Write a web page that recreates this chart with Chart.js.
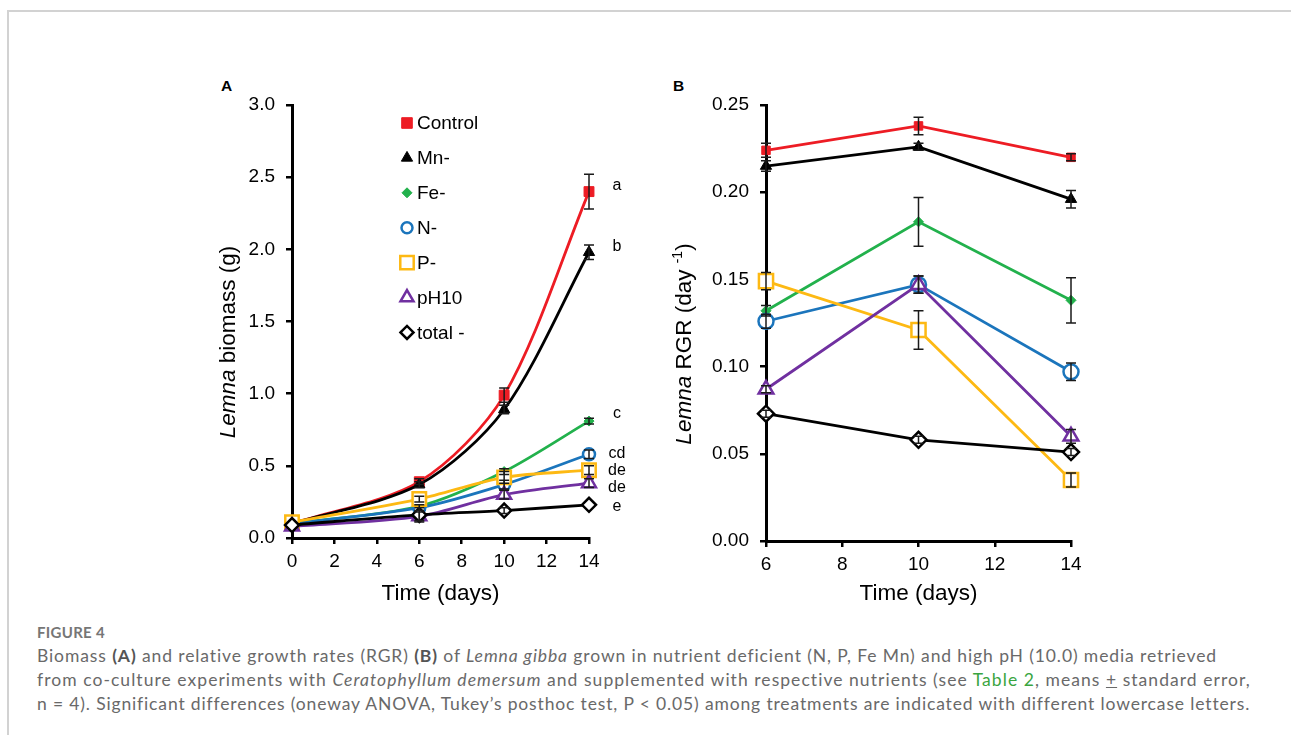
<!DOCTYPE html>
<html>
<head>
<meta charset="utf-8">
<script src="https://cdn.jsdelivr.net/npm/chart.js@4.4.1/dist/chart.umd.min.js"></script>
<style>
  body { margin: 0; background: #fff; width: 1291px; height: 735px; overflow: hidden; position: relative; font-family: "Liberation Sans", Arial, sans-serif; }
  #frame { position: absolute; left: 7px; top: 10px; width: 1400px; height: 800px; border-left: 2px solid #d2d2d2; border-top: 2px solid #d2d2d2; }
  .panel { position: absolute; font-weight: bold; font-size: 15.5px; color: #000; }
  canvas { position: absolute; }
  #caption { position: absolute; left: 37px; top: 623px; color: #696969; font-family: Lato, "Noto Sans", sans-serif; white-space: nowrap; }
  #caption .figno { font-size: 15px; font-weight: bold; color: #767676; letter-spacing: 0.3px; height: 21px; }
  #caption .line { font-size: 17.5px; line-height: 24px; display: inline-block; }
  #caption b { color: #555; }
  #caption .link { color: #3aa53f; }
</style>
</head>
<body>
<div id="frame"></div>
<div class="panel" style="left:221px; top:77px;">A</div>
<div class="panel" style="left:673px; top:77px;">B</div>
<canvas id="chartA" width="450" height="560" style="left:200px; top:60px;"></canvas>
<canvas id="chartB" width="450" height="560" style="left:655px; top:60px;"></canvas>
<div id="caption">
  <div class="figno">FIGURE 4</div>
  <div class="line" data-w="1180">Biomass <b>(A)</b> and relative growth rates (RGR) <b>(B)</b> of <i>Lemna gibba</i> grown in nutrient deficient (N, P, Fe Mn) and high pH (10.0) media retrieved</div><br>
  <div class="line" data-w="1214">from co-culture experiments with <i>Ceratophyllum demersum</i> and supplemented with respective nutrients (see <span class="link">Table 2</span>, means <u>+</u> standard error,</div><br>
  <div class="line" data-w="1211">n = 4). Significant differences (oneway ANOVA, Tukey’s posthoc test, P &lt; 0.05) among treatments are indicated with different lowercase letters.</div>
</div>
<script>
// ---- data ----
const seriesNames = ['Control', 'Mn-', 'Fe-', 'N-', 'P-', 'pH10', 'total -'];

// A: biomass (g) at days 0, 6, 10, 14
const daysA = [0, 6, 10, 14];
const bioControl = [0.10, 0.39, 0.99, 2.40];
const bioMn      = [0.10, 0.37, 0.89, 1.98];
const bioFe      = [0.10, 0.22, 0.46, 0.81];
const bioN       = [0.10, 0.21, 0.37, 0.58];
const bioP       = [0.11, 0.27, 0.42, 0.47];
const bioPH      = [0.08, 0.15, 0.30, 0.38];
const bioTotal   = [0.09, 0.16, 0.19, 0.23];
const bioControlErr = [0.01, 0.02, 0.05, 0.12];
const bioMnErr      = [0.01, 0.02, 0.03, 0.05];
const bioFeErr      = [0.01, 0.01, 0.02, 0.02];
const bioNErr       = [0.01, 0.02, 0.03, 0.03];
const bioPErr       = [0.01, 0.02, 0.04, 0.03];
const bioPHErr      = [0.01, 0.03, 0.03, 0.03];
const bioTotalErr   = [0.01, 0.05, 0.02, 0.01];

// letters next to day 14
const lettersA = ['a', 'b', 'c', 'cd', 'de', 'de', 'e'];
const lettersY = [2.44, 2.02, 0.866, 0.585, 0.47, 0.35, 0.22];

// B: RGR (day-1) at days 6, 10, 14
const daysB = [6, 10, 14];
const rgrControl = [0.224, 0.238, 0.220];
const rgrMn      = [0.215, 0.226, 0.196];
const rgrFe      = [0.132, 0.183, 0.138];
const rgrN       = [0.126, 0.147, 0.097];
const rgrP       = [0.149, 0.121, 0.035];
const rgrPH      = [0.087, 0.147, 0.060];
const rgrTotal   = [0.073, 0.058, 0.051];
const rgrControlErr = [0.004, 0.005, 0.002];
const rgrMnErr      = [0.003, 0.002, 0.005];
const rgrFeErr      = [0.003, 0.014, 0.013];
const rgrNErr       = [0.004, 0.005, 0.005];
const rgrPErr       = [0.005, 0.011, 0.004];
const rgrPHErr      = [0.002, 0.005, 0.004];
const rgrTotalErr   = [0.002, 0.002, 0.002];

// ---- styles ----
const colors = ['#ED1C24', '#000000', '#22B14C', '#1B75BC', '#FDB913', '#7030A0', '#000000'];
const styles = ['rect', 'triangle', 'rectRot', 'circle', 'rect', 'triangle', 'rectRot'];
const filled = [true, true, true, false, false, false, false];
const radiiA = [7, 6.5, 5, 6, 9.5, 8, 7];
const radiiB = [6, 6.5, 5, 7.5, 10, 8.5, 8];
const radiiLegend = [7.5, 6.5, 5, 5.5, 9.5, 7.5, 6.5];
const FONT = '"Liberation Sans", Arial, sans-serif';

// caption: spread each line to the reference width
document.querySelectorAll('#caption .line').forEach(el => {
  const target = Number(el.dataset.w);
  const n = el.textContent.length;
  el.style.letterSpacing = ((target - el.getBoundingClientRect().width) / n) + 'px';
});

function makeDatasets(days, values, errs, radii, smooth) {
  return values.map((vals, i) => ({
    label: seriesNames[i],
    data: days.map((d, j) => ({ x: d, y: vals[j] })),
    err: errs[i],
    order: values.length - i, // later series on top, like the original
    borderColor: colors[i],
    backgroundColor: colors[i],
    pointStyle: styles[i],
    pointRadius: radii[i],
    pointBorderColor: colors[i],
    pointBackgroundColor: filled[i] ? colors[i] : '#ffffff',
    pointBorderWidth: filled[i] ? 1 : 2.5,
    borderWidth: 2.8,
    tension: smooth ? 0.3 : 0,
    clip: false,
  }));
}

// error bars from dataset.err
const errorBars = {
  id: 'errorBars',
  afterDatasetsDraw(chart) {
    const { ctx, scales: { x, y } } = chart;
    ctx.save();
    ctx.strokeStyle = '#1a1a1a';
    ctx.lineWidth = 1.5;
    chart.data.datasets.forEach(ds => {
      ds.data.forEach((p, j) => {
        const e = ds.err[j];
        const px = x.getPixelForValue(p.x);
        const y1 = y.getPixelForValue(p.y + e), y2 = y.getPixelForValue(p.y - e);
        if (Math.abs(y2 - y1) < 3) return;
        ctx.beginPath();
        ctx.moveTo(px, y1); ctx.lineTo(px, y2);
        ctx.moveTo(px - 5, y1); ctx.lineTo(px + 5, y1);
        ctx.moveTo(px - 5, y2); ctx.lineTo(px + 5, y2);
        ctx.stroke();
      });
    });
    ctx.restore();
  }
};

// y title with italic part (and optional superscript)
function yTitle(parts, cx, cy) {
  return {
    id: 'yTitle',
    afterDraw(chart) {
      const ctx = chart.ctx;
      ctx.save();
      let w = 0;
      parts.forEach(p => { ctx.font = p.font; w += ctx.measureText(p.text).width; });
      ctx.translate(cx, cy);
      ctx.rotate(-Math.PI / 2);
      ctx.fillStyle = '#000';
      ctx.textBaseline = 'middle';
      let xx = -w / 2;
      parts.forEach(p => {
        ctx.font = p.font;
        ctx.fillText(p.text, xx, p.dy || 0);
        xx += ctx.measureText(p.text).width;
      });
      ctx.restore();
    }
  };
}

const legendA = {
  id: 'legendA',
  afterDraw(chart) {
    const { ctx, chartArea } = chart;
    ctx.save();
    seriesNames.forEach((name, i) => {
      const yy = chartArea.top + 18 + i * 34.9;
      const xx = chartArea.left + 115;
      ctx.fillStyle = filled[i] ? colors[i] : '#fff';
      ctx.strokeStyle = colors[i];
      ctx.lineWidth = filled[i] ? 1 : 2.5;
      Chart.helpers.drawPoint(ctx, { pointStyle: styles[i], radius: radiiLegend[i], rotation: 0, borderWidth: filled[i] ? 1 : 2.5 }, xx, yy);
      ctx.fillStyle = '#000';
      ctx.font = '19px ' + FONT;
      ctx.textBaseline = 'middle';
      ctx.fillText(name, chartArea.left + 125, yy + 1);
    });
    ctx.restore();
  }
};

const lettersPlugin = {
  id: 'letters',
  afterDraw(chart) {
    const { ctx, scales: { x, y } } = chart;
    ctx.save();
    ctx.fillStyle = '#000';
    ctx.font = '16px ' + FONT;
    ctx.textAlign = 'center';
    ctx.textBaseline = 'alphabetic';
    lettersA.forEach((t, i) => {
      ctx.fillText(t, x.getPixelForValue(14) + 28, y.getPixelForValue(lettersY[i]) + 4.5);
    });
    ctx.restore();
  }
};

function axis(min, max, step, digits, tickPad) {
  return {
    type: 'linear', min, max,
    ticks: { stepSize: step, color: '#000', font: { size: 19, family: FONT }, padding: tickPad,
      callback: v => v.toFixed(digits) },
    grid: { display: true, drawOnChartArea: false, drawTicks: true, tickLength: 6, color: '#000', lineWidth: 2.5 },
    border: { display: true, color: '#000', width: 3 },
  };
}

function makeChart(id, days, values, errs, radii, smooth, xr, yr, sizes, plugins) {
  const xs = axis(xr[0], xr[1], xr[2], 0, 6);
  xs.title = { display: true, text: 'Time (days)', color: '#000', font: { size: 22.5, family: FONT }, padding: { top: 0, bottom: 13 } };
  xs.afterFit = s => { s.height = sizes.xh; };
  const ys = axis(yr[0], yr[1], yr[2], yr[3], 11);
  ys.afterFit = s => { s.width = sizes.yw; };
  return new Chart(document.getElementById(id), {
    type: 'line',
    data: { datasets: makeDatasets(days, values, errs, radii, smooth) },
    options: {
      responsive: false, animation: false,
      layout: { padding: { top: 45, right: sizes.pr, left: 0, bottom: 0 } },
      scales: { x: xs, y: ys },
      plugins: { legend: { display: false }, tooltip: { enabled: false } }
    },
    plugins: [errorBars].concat(plugins)
  });
}

makeChart('chartA', daysA,
  [bioControl, bioMn, bioFe, bioN, bioP, bioPH, bioTotal],
  [bioControlErr, bioMnErr, bioFeErr, bioNErr, bioPErr, bioPHErr, bioTotalErr],
  radiiA, true, [0, 14, 2], [0, 3, 0.5, 1], { xh: 82, yw: 92, pr: 61 },
  [legendA, lettersPlugin, yTitle([
    { text: 'Lemna', font: 'italic 22.5px ' + FONT },
    { text: ' biomass (g)', font: '22.5px ' + FONT }
  ], 29, 282)]);

makeChart('chartB', daysB,
  [rgrControl, rgrMn, rgrFe, rgrN, rgrP, rgrPH, rgrTotal],
  [rgrControlErr, rgrMnErr, rgrFeErr, rgrNErr, rgrPErr, rgrPHErr, rgrTotalErr],
  radiiB, false, [6, 14, 2], [0, 0.25, 0.05, 2], { xh: 79, yw: 111, pr: 34 },
  [yTitle([
    { text: 'Lemna', font: 'italic 22.5px ' + FONT },
    { text: ' RGR (day ', font: '22.5px ' + FONT },
    { text: '-1', font: '14px ' + FONT, dy: -7 },
    { text: ')', font: '22.5px ' + FONT }
  ], 30, 284)]);
</script>
</body>
</html>
